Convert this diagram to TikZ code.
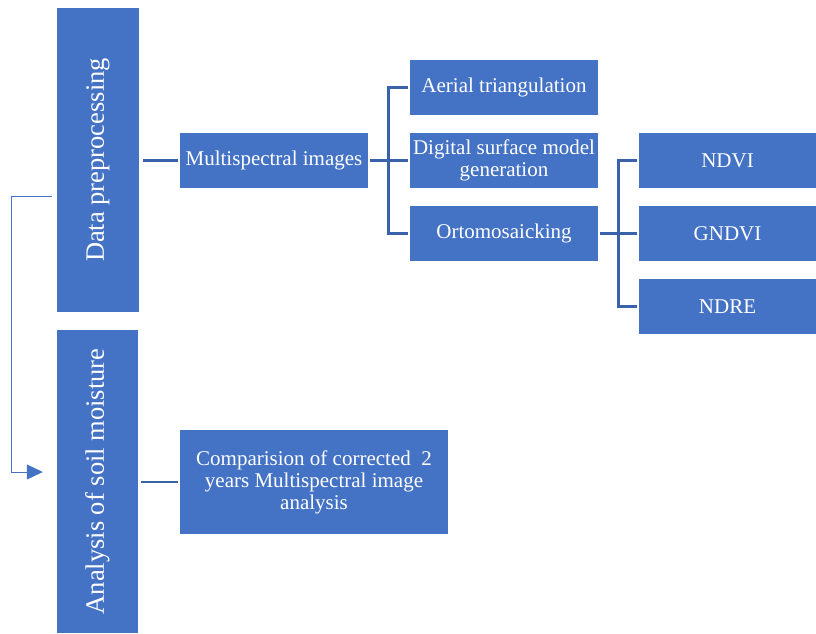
\documentclass[tikz,border=0pt]{standalone}
\usepackage{fontspec}
\setmainfont{Liberation Serif}
\usetikzlibrary{arrows.meta}
\definecolor{boxblue}{HTML}{4472C4}
\definecolor{lineblue}{HTML}{3A62AA}
\tikzset{
  stagebox/.style={fill=boxblue, text=white, inner sep=0pt, align=center,
    font=\fontsize{26.5}{30}\selectfont},
  itembox/.style={fill=boxblue, text=white, inner sep=0pt, align=center,
    minimum height=55pt, font=\fontsize{21}{22}\selectfont},
  conn/.style={lineblue, line width=2.6pt, shorten >=2pt},
  flow/.style={boxblue, line width=1pt, -{Triangle[length=16pt,width=15pt]}}
}
\begin{document}
\begin{tikzpicture}[x=1pt,y=-1pt]
  \useasboundingbox (0,0) rectangle (816,633);

  % Stages
  \node[stagebox, minimum width=304pt, minimum height=82pt, rotate=90] (data) at (98,160) {Data preprocessing};
  \node[stagebox, minimum width=303pt, minimum height=81pt, rotate=90] (analysis) at (97.5,481.5) {Analysis of soil moisture};

  % Steps
  \node[itembox, minimum width=188pt] (multi) at (274,160.5) {Multispectral images};
  \node[itembox, minimum width=188pt] (aerial) at (504,87.5) {Aerial triangulation};
  \node[itembox, minimum width=188pt] (dsm) at (504,160.5) {Digital surface model\\generation};
  \node[itembox, minimum width=188pt] (ortho) at (504,233.5) {Ortomosaicking};
  \node[itembox, minimum width=177pt] (ndvi) at (727.5,160.5) {NDVI};
  \node[itembox, minimum width=177pt] (gndvi) at (727.5,233.5) {GNDVI};
  \node[itembox, minimum width=177pt] (ndre) at (727.5,306.5) {NDRE};
  \node[itembox, minimum width=268pt, minimum height=104pt] (compare) at (314,482)
    {Comparision of corrected\ \ 2\\years Multispectral image\\analysis};

  % Connectors
  \draw[conn] (data.south |- multi.west) ++(4,0) -- (multi.west);
  \draw[conn] (analysis.south |- compare.west) ++(3,0) -- (compare.west);
  \foreach \n in {aerial,dsm,ortho}
    \draw[conn] (multi.east) ++(2,0) -- ++(18,0) |- (\n.west);
  \foreach \n in {ndvi,gndvi,ndre}
    \draw[conn] (ortho.east) ++(2,0) -- ++(18,0) |- (\n.west);

  % Loop back arrow
  \draw[flow] ([xshift=-5pt,yshift=-36pt]data.north) -- ++(-40,0)
    |- ([xshift=-14pt,yshift=9.5pt]analysis.north);
\end{tikzpicture}
\end{document}
